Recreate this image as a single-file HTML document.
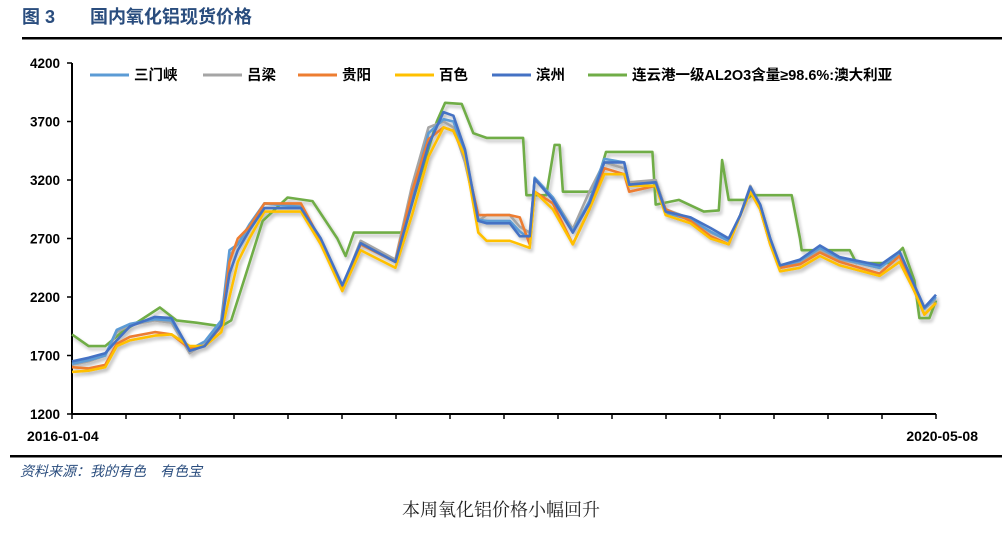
<!DOCTYPE html>
<html><head><meta charset="utf-8"><style>
body{margin:0;background:#fff;width:1002px;height:534px;overflow:hidden;font-family:"Liberation Sans","Noto Sans CJK SC",sans-serif;}
</style></head><body>
<svg width="1002" height="534" xmlns="http://www.w3.org/2000/svg">
<defs><filter id="sh" x="-5%" y="-5%" width="110%" height="120%"><feGaussianBlur in="SourceAlpha" stdDeviation="1.5"/><feOffset dx="2" dy="3"/><feComponentTransfer><feFuncA type="linear" slope="0.25"/></feComponentTransfer><feMerge><feMergeNode/><feMergeNode in="SourceGraphic"/></feMerge></filter></defs>
<text x="22" y="23" font-size="18" font-weight="bold" fill="#2a4d7e">图 3</text>
<text x="90" y="23" font-size="18" font-weight="bold" fill="#2a4d7e">国内氧化铝现货价格</text>
<rect x="22" y="37" width="980" height="2.5" fill="#000"/>
<g id="axes"></g>
<g id="series" filter="url(#sh)"></g>
<g id="legend"></g>
<rect x="10" y="455" width="992" height="2.5" fill="#000"/>
<text x="20" y="476" font-size="14" font-style="italic" fill="#2a4d7e">资料来源：我的有色　有色宝</text>
<text x="501" y="516" font-size="18" text-anchor="middle" fill="#222" font-family="'Liberation Serif','Noto Serif CJK SC',serif">本周氧化铝价格小幅回升</text>
</svg>
<script>
const yTicks=[1200,1700,2200,2700,3200,3700,4200];
const xLabels=["2016-01-04","2020-05-08"];
const seriesNames=["三门峡","吕梁","贵阳","百色","滨州","连云港一级AL2O3含量≥98.6%:澳大利亚"];
const seriesColors=["#5b9bd5","#a5a5a5","#ed7d31","#ffc000","#4472c4","#70ad47"];
const tMain=[0,1,2,2.7,3.5,5,6,7.1,8,9,9.5,10,10.7,11.6,13.8,15,16.3,17.4,19.5,20.5,21.5,22.4,23,23.7,24.5,25,26.4,27,27.6,27.9,29,30.2,31.2,32.1,33.3,33.6,35.2,35.8,37.3,38.5,39.6,40.3,40.9,41.5,42.1,42.7,43.9,45.1,46.3,48.7,49.9,50.8,51.4,52.1];
const sanmenxia=[1630,1660,1700,1920,1970,2010,2000,1750,1820,2000,2600,2650,2820,3000,2970,2680,2280,2650,2500,3050,3600,3720,3700,3420,2860,2850,2850,2760,2700,3220,3050,2760,3020,3380,3350,3160,3180,2920,2860,2760,2680,2900,3140,2990,2700,2460,2510,2620,2530,2450,2570,2280,2100,2200];
const lvliang=[1620,1650,1700,1900,1960,2000,1980,1720,1800,1980,2550,2650,2800,3000,2980,2650,2280,2680,2520,3150,3650,3700,3650,3350,2850,2900,2900,2800,2750,3200,3050,2780,3100,3350,3300,3180,3200,2950,2870,2750,2680,2900,3150,2980,2680,2450,2500,2600,2520,2450,2580,2250,2100,2180];
const guiyang=[1600,1590,1620,1800,1860,1900,1880,1760,1780,1950,2500,2700,2800,3000,3000,2680,2260,2650,2500,3100,3550,3650,3620,3400,2900,2900,2900,2880,2650,3100,3000,2650,2950,3300,3250,3100,3150,2950,2850,2720,2650,2900,3100,2950,2650,2450,2480,2580,2500,2400,2550,2250,2050,2150];
const baise=[1560,1570,1600,1780,1830,1870,1880,1780,1780,1900,2200,2500,2700,2930,2930,2650,2250,2600,2450,2900,3400,3650,3620,3400,2750,2680,2680,2650,2620,3100,2950,2650,2950,3250,3250,3150,3150,2900,2830,2700,2650,2900,3100,2950,2650,2420,2450,2550,2470,2380,2500,2250,2050,2150];
const binzhou=[1650,1680,1720,1830,1950,2030,2020,1740,1780,1960,2400,2600,2770,2960,2960,2700,2300,2660,2500,3000,3500,3780,3750,3460,2850,2830,2830,2720,2720,3210,3030,2750,3000,3350,3350,3160,3180,2930,2880,2790,2700,2900,3140,2990,2700,2470,2520,2640,2540,2470,2590,2300,2110,2220];
const tGreen=[0,1,2,3,4,5.3,6.3,7.5,9,9.6,10.5,11.5,13,14.5,16,16.5,17,20,20.5,22,22.5,23.5,24.2,25,27.2,27.4,28.6,29.1,29.4,29.6,31.5,32.2,35,35.2,36.6,38.1,39,39.2,39.6,40.6,41,43.4,43.9,44,46.9,47.3,49.2,50.1,50.8,51.1,51.7,52.1];
const lianyungang=[1880,1780,1780,1900,1990,2110,2000,1980,1950,2000,2400,2850,3050,3020,2700,2550,2750,2750,3000,3700,3860,3850,3600,3560,3560,3070,3070,3500,3500,3100,3100,3440,3440,2990,3030,2930,2940,3370,3030,3030,3070,3070,2700,2600,2600,2490,2490,2620,2340,2020,2020,2170];
const X0=72,X1=936,Y0=414,Y1=63,TMAX=52.1;
const sx=t=>X0+(t/TMAX)*(X1-X0);
const sy=v=>Y0-(v-1200)/(4200-1200)*(Y0-Y1);
const NS="http://www.w3.org/2000/svg";
function mk(tag,attrs,parent){const e=document.createElementNS(NS,tag);for(const k in attrs)e.setAttribute(k,attrs[k]);parent.appendChild(e);return e;}
const ax=document.getElementById('axes');
let l=mk('line',{x1:X0,y1:Y1,x2:X0,y2:Y0,stroke:'#000','stroke-width':2},ax);


l=mk('line',{x1:X0,y1:Y0,x2:X1,y2:Y0,stroke:'#000','stroke-width':2},ax);


yTicks.forEach(v=>{const y=sy(v);
 mk('line',{x1:X0-5,y1:y,x2:X0,y2:y,stroke:'#000','stroke-width':1.5},ax);
 const t=mk('text',{x:X0-12,y:y+5,'font-size':13.5,'font-weight':'bold','text-anchor':'end',fill:'#000'},ax);t.textContent=v;
 
 
});
for(let i=0;i<=16;i++){const x=X0+i*(X1-X0)/16;mk('line',{x1:x,y1:Y0,x2:x,y2:Y0+5,stroke:'#000','stroke-width':1.5},ax);}
let tx=mk('text',{x:27,y:441,'font-size':14,'font-weight':'bold',fill:'#000'},ax);tx.textContent=xLabels[0];


tx=mk('text',{x:978,y:441,'font-size':14,'font-weight':'bold','text-anchor':'end',fill:'#000'},ax);tx.textContent=xLabels[1];


const sg=document.getElementById('series');
const all=[[tMain,sanmenxia],[tMain,lvliang],[tMain,guiyang],[tMain,baise],[tMain,binzhou],[tGreen,lianyungang]];
const order=[5,1,0,2,3,4];
order.forEach(i=>{const [ts,vs]=all[i];const n=Math.min(ts.length,vs.length);let d='';
 for(let j=0;j<n;j++)d+=(j?'L':'M')+sx(ts[j]).toFixed(1)+','+sy(vs[j]).toFixed(1);
 const p=mk('path',{d:d,fill:'none',stroke:seriesColors[i],'stroke-width':2.6,'stroke-linejoin':'round'},sg);
 
 
});
const lg=document.getElementById('legend');
const lx=[90,203,298,395,492,588];
seriesNames.forEach((nm,i)=>{
 const g=mk('g',{},lg);
 
 
 mk('line',{x1:lx[i],y1:75,x2:lx[i]+39,y2:75,stroke:seriesColors[i],'stroke-width':3},g);
 const t=mk('text',{x:lx[i]+44,y:80,'font-size':14.5,'font-weight':'bold',fill:'#000'},g);t.textContent=nm;
});
</script>
</body></html>
